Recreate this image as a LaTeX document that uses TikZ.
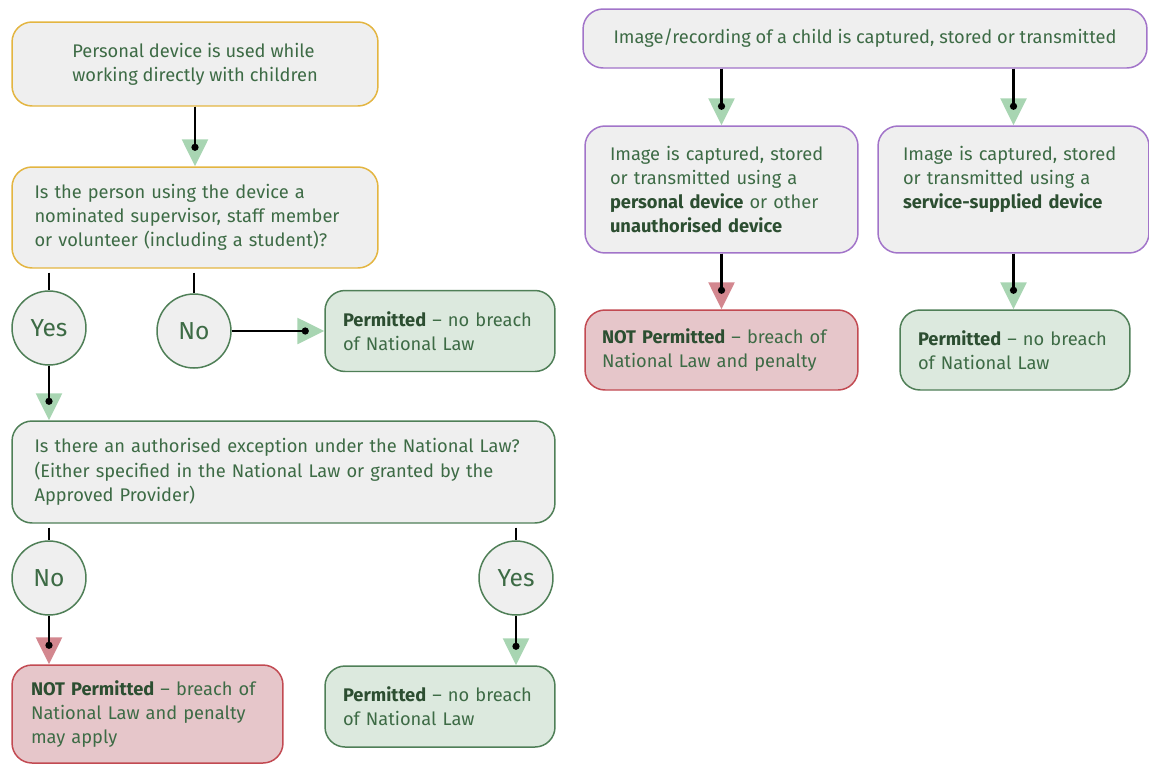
\documentclass[tikz,border=0pt]{standalone}
\usepackage{fontspec}
\setmainfont{Fira Sans}
\usetikzlibrary{arrows.meta}
\definecolor{ink}{HTML}{3D6B45}
\definecolor{inkdark}{HTML}{2C4E31}
\definecolor{boxgray}{HTML}{EFEFEF}
\definecolor{askline}{HTML}{E3B541}
\definecolor{snapline}{HTML}{A274C9}
\definecolor{okline}{HTML}{4F7F57}
\definecolor{okfill}{HTML}{DCE9DE}
\definecolor{noline}{HTML}{C24A52}
\definecolor{nofill}{HTML}{E6C6CA}
\definecolor{tipok}{HTML}{A8D5B2}
\definecolor{tipno}{HTML}{D3878F}
\newcommand{\keyword}[1]{\textbf{\color{inkdark}#1}}
\tikzset{
 box/.style={draw, rounded corners=0.4cm, fill=boxgray, text=ink, line width=0.85pt, align=left, font=\fontsize{10.4}{13.8}\selectfont},
 ask/.style={box, draw=askline},
 snap/.style={box, draw=snapline},
 law/.style={box, draw=okline},
 okbox/.style={box, draw=okline, fill=okfill},
 nobox/.style={box, draw=noline, fill=nofill},
 answer/.style={circle, draw=okline, fill=boxgray, text=ink, minimum size=1.48cm, inner sep=0pt, line width=0.85pt, font=\fontsize{14}{16}\selectfont},
 link/.style={line width=1.5pt, shorten <=0.08cm},
 go/.style={line width=1.5pt, -{Triangle[length=0.54cm, width=0.52cm, color=tipok]},
  postaction={draw, line width=1.5pt, -{Circle[length=4pt]}, shorten >=0.31cm}},
 stop/.style={line width=1.5pt, -{Triangle[length=0.54cm, width=0.52cm, color=tipno]},
  postaction={draw, line width=1.5pt, -{Circle[length=4pt]}, shorten >=0.31cm}},
}

\begin{document}
\begin{tikzpicture}[x=0.02cm, y=-0.02cm]
        \useasboundingbox (0,0) rectangle (1149,765);
        \node[ask, minimum width=7.32cm, minimum height=1.68cm] (start) at (195,64) {Personal device is used while\\working directly with children};
        \node[ask, text width=6.42cm, inner xsep=0.45cm, minimum height=2.02cm] (q1) at (195,217.5) {Is the person using the device a\\nominated supervisor, staff member\\or volunteer (including a student)?};
        \node[answer] (yes1) at (49,328) {Yes};
        \node[answer] (no1) at (194,331) {No};
        \node[okbox, text width=3.88cm, inner xsep=0.36cm, minimum height=1.62cm] (ok1) at (440,331) {\keyword{Permitted} – no breach\\of National Law};
        \node[law, text width=9.96cm, inner xsep=0.45cm, minimum height=2.04cm] (q2) at (283.5,472) {Is there an authorised exception under the National Law?\\(Either specified in the National Law or granted by the\\Approved Provider)};
        \node[answer] (no2) at (49,578) {No};
        \node[answer] (yes2) at (516,578) {Yes};
        \node[nobox, text width=4.66cm, inner xsep=0.38cm, minimum height=1.96cm] (fail2) at (147.5,714) {\keyword{NOT Permitted} – breach of\\National Law and penalty\\may apply};
        \node[okbox, text width=3.88cm, inner xsep=0.36cm, minimum height=1.62cm] (ok2) at (440,706.5) {\keyword{Permitted} – no breach\\of National Law};

        \node[snap, align=center, minimum width=11.28cm, minimum height=1.18cm] (top) at (865,38.5) {Image/recording of a child is captured, stored or transmitted};
        \node[snap, text width=4.46cm, inner xsep=0.5cm, minimum height=2.54cm] (dev1) at (721.5,189.5) {Image is captured, stored\\or transmitted using a\\\keyword{personal device} or other\\\keyword{unauthorised device}};
        \node[snap, text width=4.42cm, inner xsep=0.5cm, minimum height=2.54cm] (dev2) at (1013.5,189.5) {Image is captured, stored\\or transmitted using a\\\keyword{service-supplied device}\\\mbox{}};
        \node[nobox, text width=4.78cm, inner xsep=0.34cm, minimum height=1.6cm] (fail3) at (721.5,350) {\keyword{NOT Permitted} – breach of\\National Law and penalty};
        \node[okbox, text width=3.88cm, inner xsep=0.36cm, minimum height=1.6cm] (ok3) at (1015,350) {\keyword{Permitted} – no breach\\of National Law};

        \draw[go] (start) -- (q1);
        \draw[link] (yes1 |- q1.south) -- (yes1);
        \draw[link] (no1 |- q1.south) -- (no1);
        \draw[go] (no1) -- (ok1);
        \draw[go] (yes1) -- (yes1 |- q2.north);
        \draw[link] (no2 |- q2.south) -- (no2);
        \draw[link] (yes2 |- q2.south) -- (yes2);
        \draw[stop] (no2) -- (no2 |- fail2.north);
        \draw[go] (yes2) -- (yes2 |- ok2.north);
        \draw[go] (top.south -| dev1) -- (dev1);
        \draw[go] (top.south -| dev2) -- (dev2);
        \draw[stop] (dev1) -- (fail3);
        \draw[go] (dev2) -- (dev2 |- ok3.north);
    \end{tikzpicture}
\end{document}
